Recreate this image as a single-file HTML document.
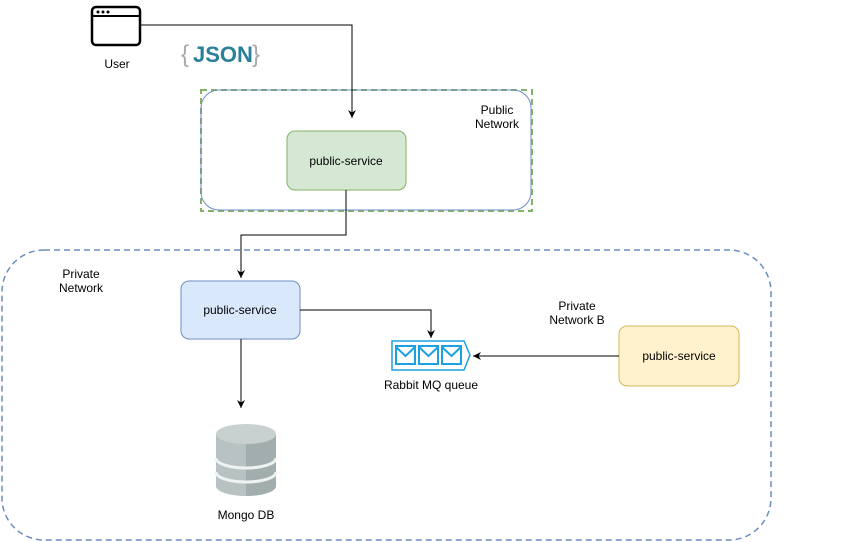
<!DOCTYPE html>
<html><head><style>html,body{margin:0;padding:0;background:#fff}svg{display:block}text{font-family:"Liberation Sans",Arial,sans-serif;font-size:12px;fill:#000}</style></head>
<body>
<svg width="842" height="542" viewBox="0 0 842 542" xmlns="http://www.w3.org/2000/svg">
<defs><marker id="a" markerWidth="10" markerHeight="10" refX="8" refY="5" orient="auto" markerUnits="userSpaceOnUse"><path d="M0,1 L8,5 L0,9 L2.5,5 Z" fill="#000"/></marker></defs>
<!-- private network -->
<rect x="2" y="250" width="769" height="290" rx="42" fill="none" stroke="#6c8ebf" stroke-width="1.5" stroke-dasharray="6,4"/>
<text x="81" y="278" text-anchor="middle">Private</text><text x="81" y="292" text-anchor="middle">Network</text>
<!-- public network -->
<rect x="201" y="90" width="331" height="121" fill="none" stroke="#82b366" stroke-width="2" stroke-dasharray="6,4"/>
<rect x="201" y="90" width="330" height="120" rx="18" fill="none" stroke="#6c8ebf" stroke-width="1"/>
<text x="497" y="114" text-anchor="middle">Public</text><text x="497" y="128" text-anchor="middle">Network</text>
<!-- user -->
<rect x="92" y="7" width="48" height="38" rx="4" fill="#fff" stroke="#000" stroke-width="2.5"/>
<line x1="92" y1="16" x2="140" y2="16" stroke="#000" stroke-width="2"/>
<circle cx="98" cy="12" r="1.5"/><circle cx="103" cy="12" r="1.5"/><circle cx="108" cy="12" r="1.5"/>
<text x="117" y="68" text-anchor="middle">User</text>
<text x="181" y="62" style="font-size:24px;fill:#aaa">{</text>
<text x="193" y="62" style="font-size:22px;font-weight:bold;fill:#2a7f9a">JSON</text>
<text x="252" y="62" style="font-size:24px;fill:#aaa">}</text>
<path d="M141,25 H352 V118" fill="none" stroke="#000" marker-end="url(#a)"/>
<!-- green -->
<rect x="287" y="131" width="119" height="59" rx="8" fill="#d5e8d4" stroke="#82b366"/>
<text x="346" y="165" text-anchor="middle">public-service</text>
<path d="M346,190 V235 H241 V278" fill="none" stroke="#000" marker-end="url(#a)"/>
<!-- blue -->
<rect x="181" y="281" width="119" height="58" rx="8" fill="#dae8fc" stroke="#6c8ebf"/>
<text x="240" y="314" text-anchor="middle">public-service</text>
<path d="M300,310 H431 V338" fill="none" stroke="#000" marker-end="url(#a)"/>
<path d="M241,339 V408" fill="none" stroke="#000" marker-end="url(#a)"/>
<!-- queue -->
<path d="M392,341 H464 L470,355 L464,370 H392 Z" fill="#fff" stroke="#1ba1e2" stroke-width="1.5"/>
<g fill="none" stroke="#1ba1e2" stroke-width="2">
<rect x="396" y="346" width="19" height="18"/><path d="M396,347 L405.5,356 L415,347"/>
<rect x="419" y="346" width="19" height="18"/><path d="M419,347 L428.5,356 L438,347"/>
<rect x="442" y="346" width="19" height="18"/><path d="M442,347 L451.5,356 L461,347"/>
</g>
<text x="431" y="389" text-anchor="middle">Rabbit MQ queue</text>
<!-- yellow -->
<rect x="619" y="326" width="120" height="60" rx="8" fill="#fff2cc" stroke="#d6b656"/>
<text x="679" y="360" text-anchor="middle">public-service</text>
<path d="M619,356 H473" fill="none" stroke="#000" marker-end="url(#a)"/>
<text x="577" y="310" text-anchor="middle">Private</text><text x="577" y="324" text-anchor="middle">Network B</text>
<!-- DB -->
<path d="M216,434 V486 A30,10 0 0 0 276,486 V434 Z" fill="#b8c2c2"/>
<path d="M246,434 V496 A30,10 0 0 0 276,486 V434 Z" fill="#a2aeae"/>
<path d="M216,458 A30,10 0 0 0 276,458" fill="none" stroke="#eef2f2" stroke-width="3"/>
<path d="M216,472 A30,10 0 0 0 276,472" fill="none" stroke="#eef2f2" stroke-width="3"/>
<ellipse cx="246" cy="434" rx="30" ry="10" fill="#c9d0d0"/>
<text x="246" y="519" text-anchor="middle">Mongo DB</text>
</svg>
</body></html>
